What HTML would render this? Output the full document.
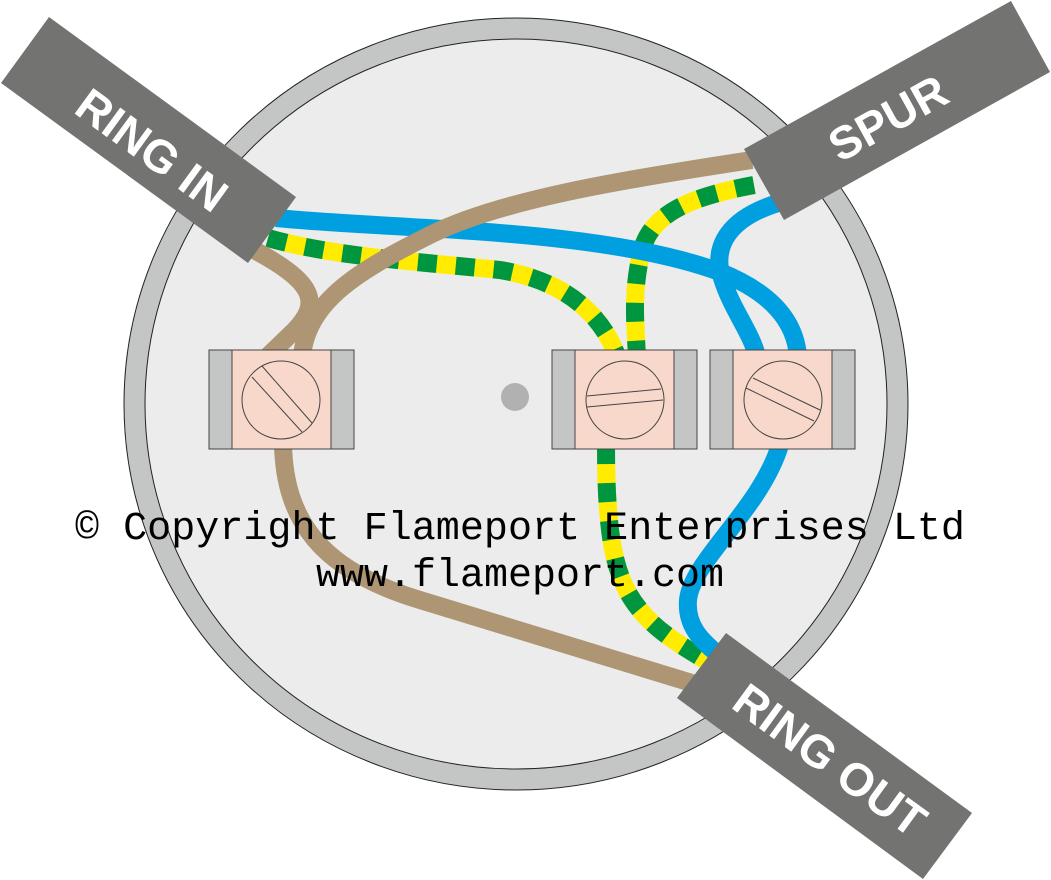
<!DOCTYPE html>
<html><head><meta charset="utf-8"><style>html,body{margin:0;padding:0;background:#fff}svg{display:block}</style></head><body>
<svg width="1051" height="880" viewBox="0 0 1051 880" xmlns="http://www.w3.org/2000/svg">
<ellipse cx="516" cy="404" rx="392" ry="386" fill="#c4c6c5" stroke="#222" stroke-width="1"/>
<ellipse cx="516" cy="404" rx="371" ry="365" fill="#ebeceb" stroke="#222" stroke-width="1"/>
<circle cx="515" cy="397" r="14" fill="#b1b1b1"/>
<g fill="none" stroke-width="18">
<!-- earth -->
<g stroke="#ffec00">
<path d="M268,238 C330,256 420,262 500,270 C560,280 600,310 617,356"/>
<path d="M754,185 C700,195 652,210 642,250 C632,290 635,320 637,356"/>
<path d="M606,445 C606,540 615,580 640,610 C660,635 690,650 708,662"/>
</g>
<g stroke="#009640" stroke-dasharray="19 19">
<path d="M268,238 C330,256 420,262 500,270 C560,280 600,310 617,356"/>
<path d="M754,185 C700,195 652,210 642,250 C632,290 635,320 637,356"/>
<path d="M606,445 C606,540 615,580 640,610 C660,635 690,650 708,662"/>
</g>
<!-- blue -->
<g stroke="#009fe0">
<path d="M276,218 C400,230 600,228 720,272 C770,292 795,320 798,356"/>
<path d="M778,203 C730,218 712,245 722,278 C732,310 750,330 757,356"/>
<path d="M780,445 C760,510 692,560 688,600 C686,625 700,640 720,656"/>
</g>
<!-- brown -->
<g stroke="#ae9574">
<path d="M254,250 C320,285 318,305 295,330 L268,356"/>
<path d="M752,160 C620,180 500,200 430,235 C360,270 308,300 302,356"/>
<path d="M283,445 C285,520 320,570 420,600 L695,684"/>
</g>
</g>
<!-- terminals -->
<g stroke="#444" stroke-width="1">
<rect x="209" y="350" width="145" height="99" fill="#c4c6c5"/>
<rect x="232" y="350" width="99" height="99" fill="#f8d8ca"/>
<circle cx="281" cy="400" r="39" fill="#f8d8ca"/>
<line x1="252" y1="377" x2="302" y2="432"/>
<line x1="262" y1="366" x2="312" y2="423"/>
<rect x="552" y="350" width="145" height="99" fill="#c4c6c5"/>
<rect x="575" y="350" width="99" height="99" fill="#f8d8ca"/>
<circle cx="625" cy="400" r="39" fill="#f8d8ca"/>
<line x1="587" y1="396" x2="661" y2="389"/>
<line x1="587" y1="407" x2="663" y2="400"/>
<rect x="710" y="350" width="145" height="99" fill="#c4c6c5"/>
<rect x="733" y="350" width="99" height="99" fill="#f8d8ca"/>
<circle cx="783" cy="400" r="39" fill="#f8d8ca"/>
<line x1="753" y1="378" x2="820" y2="410"/>
<line x1="746" y1="388" x2="814" y2="421"/>
</g>
<!-- cables -->
<g fill="#737372">
<polygon points="49,17 296,197 248,263 1,83"/>
<polygon points="1011,1 1050,72 784,220 744,149"/>
<polygon points="726,633 972,813 923,879 677,698"/>
</g>
<g fill="#fff" font-family="Liberation Sans, sans-serif" font-weight="bold" font-size="46" text-anchor="middle">
<text transform="translate(152,150) rotate(36)" dominant-baseline="central">RING IN</text>
<text transform="translate(888,118) rotate(-29)" dominant-baseline="central">SPUR</text>
<text transform="translate(830,760) rotate(36)" dominant-baseline="central">RING OUT</text>
</g>
<g font-family="Liberation Mono, monospace" font-size="40" fill="#000">
<text x="75" y="539" textLength="890" lengthAdjust="spacingAndGlyphs">© Copyright Flameport Enterprises Ltd</text>
<text x="316" y="586" textLength="408" lengthAdjust="spacingAndGlyphs">www.flameport.com</text>
</g>
</svg>
</body></html>
